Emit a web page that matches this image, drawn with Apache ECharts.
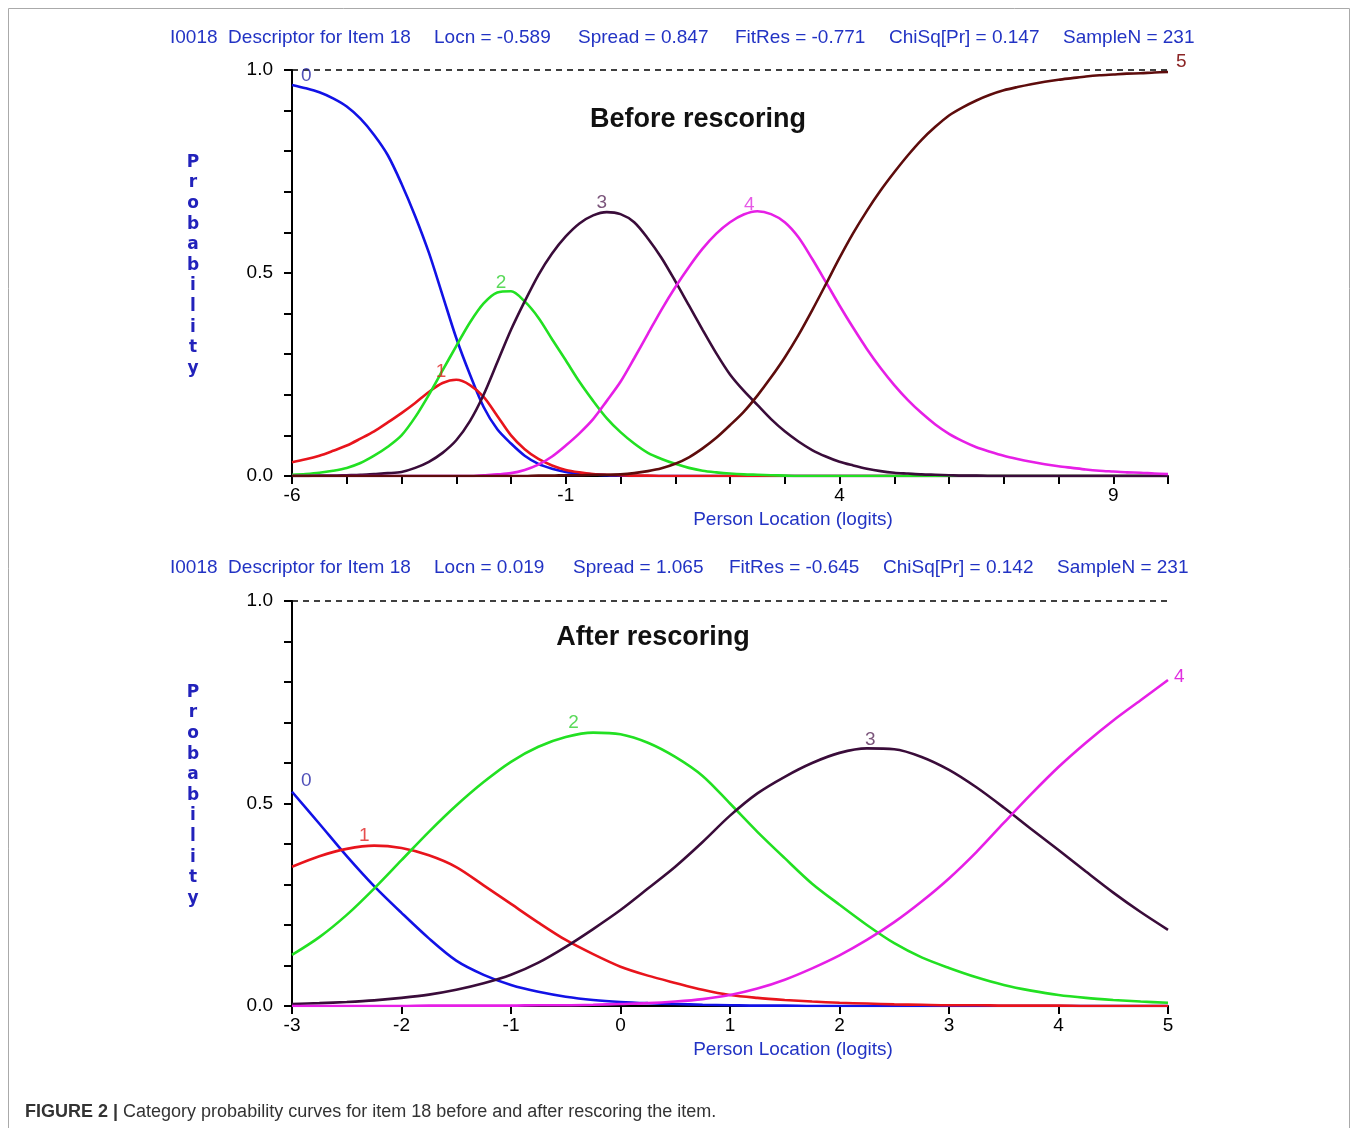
<!DOCTYPE html>
<html><head><meta charset="utf-8">
<script src="https://cdn.jsdelivr.net/npm/echarts@6/dist/echarts.min.js"></script>
<style>html,body{margin:0;padding:0;background:#fff}#c{width:1357px;height:1128px}</style>
</head><body><div id="c"></div>
<script>
// ---------- data (step 0.25 logits) ----------
const topX = [-6,-5.75,-5.5,-5.25,-5,-4.75,-4.5,-4.25,-4,-3.75,-3.5,-3.25,-3,-2.75,-2.5,-2.25,-2,-1.75,-1.5,-1.25,-1,-0.75,-0.5,-0.25,0,0.25,0.5,0.75,1,1.25,1.5,1.75,2,2.25,2.5,2.75,3,3.25,3.5,3.75,4,4.25,4.5,4.75,5,5.25,5.5,5.75,6,6.25,6.5,6.75,7,7.25,7.5,7.75,8,8.25,8.5,8.75,9,9.25,9.5,9.75,10];
const top0 = [0.963,0.955,0.945,0.93,0.91,0.88,0.84,0.79,0.72,0.64,0.55,0.445,0.34,0.25,0.17,0.115,0.08,0.05,0.03,0.018,0.01,0.006,0.004,0.002,0.001,
  0,0,0,0,0,0,0,0,0,0,0,0,0,0,0,0,0,0,0,0,0,0,0,0,0,0,0,0,0,0,0,0,0,0,0,0,0,0,0,0];
const top1 = [0.034,0.041,0.05,0.062,0.075,0.092,0.11,0.132,0.155,0.18,0.207,0.229,0.237,0.224,0.195,0.148,0.1,0.066,0.042,0.026,0.015,0.009,0.005,0.003,0.002,0.001,0.001,
  0,0,0,0,0,0,0,0,0,0,0,0,0,0,0,0,0,0,0,0,0,0,0,0,0,0,0,0,0,0,0,0,0,0,0,0,0,0];
const top2 = [0.003,0.005,0.008,0.013,0.02,0.032,0.05,0.072,0.1,0.145,0.2,0.26,0.32,0.378,0.425,0.452,0.455,0.43,0.39,0.337,0.285,0.232,0.185,0.142,0.108,0.08,0.057,0.042,0.03,0.02,0.013,0.009,0.006,0.004,0.003,0.002,0.001,
  0,0,0,0,0,0,0,0,0,0,0,0,0,0,0,0,0,0,0,0,0,0,0,0,0,0,0,0];
const top3 = [0,0,0.001,0.001,0.002,0.003,0.005,0.007,0.01,0.02,0.035,0.057,0.088,0.135,0.2,0.28,0.36,0.43,0.495,0.548,0.59,0.622,0.642,0.65,0.645,0.625,0.585,0.537,0.48,0.42,0.36,0.302,0.25,0.21,0.175,0.14,0.11,0.085,0.064,0.048,0.035,0.026,0.018,0.012,0.008,0.006,0.004,0.003,0.002,0.001,0.001,
  0,0,0,0,0,0,0,0,0,0,0,0,0,0];
const top4 = [0,0,0,0,0,0,0,0,0,0,0,0,0,0,
  0.002,0.004,0.007,0.015,0.028,0.048,0.075,0.105,0.14,0.185,0.232,0.29,0.35,0.41,0.465,0.515,0.56,0.597,0.625,0.644,0.652,0.645,0.625,0.588,0.535,0.478,0.42,0.365,0.313,0.266,0.224,0.187,0.155,0.127,0.104,0.086,0.071,0.06,0.05,0.042,0.035,0.029,0.024,0.02,0.016,0.013,0.011,0.009,0.008,0.006,0.005];
const top5 = [0,0,0,0,0,0,0,0,0,0,0,0,0,0,0,0,0,0,
  0.001,0.001,0.002,0.002,0.003,0.003,0.004,0.007,0.012,0.019,0.03,0.046,0.068,0.094,0.125,0.158,0.198,0.243,0.292,0.347,0.408,0.472,0.537,0.598,0.653,0.703,0.748,0.79,0.828,0.86,0.888,0.908,0.925,0.939,0.95,0.958,0.965,0.971,0.976,0.98,0.984,0.987,0.989,0.991,0.992,0.994,0.995];

const botX = [-3,-2.75,-2.5,-2.25,-2,-1.75,-1.5,-1.25,-1,-0.75,-0.5,-0.25,0,0.25,0.5,0.75,1,1.25,1.5,1.75,2,2.25,2.5,2.75,3,3.25,3.5,3.75,4,4.25,4.5,4.75,5];
const bot0 = [0.529,0.45,0.37,0.296,0.23,0.167,0.112,0.077,0.052,0.035,0.023,0.015,0.01,0.007,0.005,0.003,0.002,0.001,0.001,0,0,0,0,0,0,0,0,0,0,0,0,0,0];
const bot1 = [0.344,0.37,0.388,0.396,0.39,0.372,0.343,0.298,0.252,0.206,0.163,0.128,0.097,0.075,0.057,0.04,0.027,0.02,0.015,0.011,0.008,0.006,0.004,0.003,0.002,0.002,0.001,0.001,0.001,0,0,0,0];
const bot2 = [0.126,0.17,0.225,0.29,0.36,0.43,0.495,0.553,0.603,0.64,0.664,0.675,0.671,0.65,0.615,0.568,0.5,0.43,0.365,0.302,0.25,0.2,0.155,0.12,0.094,0.071,0.052,0.038,0.027,0.02,0.015,0.011,0.008];
const bot3 = [0.005,0.007,0.01,0.014,0.02,0.028,0.04,0.056,0.077,0.107,0.146,0.19,0.237,0.29,0.344,0.405,0.47,0.525,0.566,0.6,0.625,0.636,0.634,0.615,0.583,0.54,0.49,0.437,0.385,0.332,0.28,0.232,0.188];
const bot4 = [0,0,0,0,0,0.001,0.001,0.001,0.001,0.002,0.002,0.003,0.005,0.007,0.011,0.017,0.027,0.043,0.065,0.093,0.125,0.163,0.207,0.258,0.315,0.38,0.452,0.523,0.59,0.65,0.705,0.755,0.805];

const topXLabels = [-6,-1,4,9];
const yLabels = [0,0.5,1];
// category label annotations [x, y, text]
const topCatLabels = [[-5.74,0.985,'0'],[-3.28,0.256,'1'],[-2.18,0.475,'2'],[-0.34,0.672,'3'],[2.35,0.667,'4']];
const botCatLabels = [[-2.87,0.556,'0'],[-2.34,0.42,'1'],[-0.43,0.699,'2'],[2.28,0.657,'3']];

const headerTop = ['I0018  Descriptor for Item 18','Locn = -0.589','Spread = 0.847','FitRes = -0.771','ChiSq[Pr] = 0.147','SampleN = 231'];
const headerBot = ['I0018  Descriptor for Item 18','Locn = 0.019','Spread = 1.065','FitRes = -0.645','ChiSq[Pr] = 0.142','SampleN = 231'];

// ---------- styling ----------
const lineColors = ['#1212e6','#e8141c','#22e022','#3a0c3a','#e61fe6','#5e0c0c'];
const labelColors = ['#2424a8','#e02020','#30d030','#5a2a5a','#e030e0','#8b2525'];
const headerXTop = [170,434,578,735,889,1063];
const headerXBot = [170,434,573,729,883,1057];
const blueText = '#2233c4';

const chart = echarts.init(document.getElementById('c'));

function xAxisCfg(gi, min, max, fmt){
  return {gridIndex:gi, type:'value', min:min, max:max, interval:1,
    axisLine:{onZero:false, lineStyle:{color:'#000', width:2}},
    axisTick:{length:8, lineStyle:{color:'#000', width:2}},
    axisLabel:{formatter:fmt, color:'#000', fontSize:19, margin:10, fontFamily:'Liberation Sans'},
    splitLine:{show:false}};
}
function yAxisCfg(gi){
  return {gridIndex:gi, type:'value', min:0, max:1, interval:0.1,
    axisLine:{show:true, onZero:false, lineStyle:{color:'#000', width:2}},
    axisTick:{show:true, length:8, lineStyle:{color:'#000', width:2}},
    axisLabel:{color:'#000', fontSize:19, margin:19, fontFamily:'Liberation Sans',
      formatter:v=>yLabels.some(t=>Math.abs(t-v)<1e-6)?v.toFixed(1):''},
    splitLine:{show:false}};
}
function lineSeries(gi, xs, ys, ci, extra){
  return Object.assign({type:'line', xAxisIndex:gi, yAxisIndex:gi, smooth:0.3, showSymbol:false, symbol:'none',
    data:xs.map((x,i)=>[x, ys[i]]), lineStyle:{color:lineColors[ci], width:2.6}, itemStyle:{color:lineColors[ci]}, z:3}, extra||{});
}
const dashLine = {silent:true, symbol:'none', data:[{yAxis:1}], label:{show:false},
  lineStyle:{type:[6,5], color:'#000', width:1.6}};
function labelSeries(gi, arr, colorIdx){
  return {type:'scatter', xAxisIndex:gi, yAxisIndex:gi, symbolSize:1, itemStyle:{color:'rgba(0,0,0,0)'}, z:5,
    data:arr.map((d,i)=>({value:[d[0],d[1]], label:{show:true, position:'inside', formatter:d[2], color:labelColors[colorIdx[i]], fontSize:19, fontFamily:'Liberation Sans'}}))};
}

const graphics = [];
graphics.push({type:'rect', shape:{x:8.5,y:8.5,width:1341,height:1140}, style:{fill:'none', stroke:'#aaaaaa', lineWidth:1}, silent:true});
headerTop.forEach((t,i)=>graphics.push({type:'text', x:headerXTop[i], y:38, style:{text:t, fill:blueText, font:'19px "Liberation Sans"', textAlign:'left', textVerticalAlign:'middle', align:'left', verticalAlign:'middle'}}));
headerBot.forEach((t,i)=>graphics.push({type:'text', x:headerXBot[i], y:568, style:{text:t, fill:blueText, font:'19px "Liberation Sans"', textAlign:'left', textVerticalAlign:'middle', align:'left', verticalAlign:'middle'}}));
graphics.push({type:'text', x:698, y:120, style:{text:'Before rescoring', fill:'#111', font:'bold 27px "Liberation Sans"', textAlign:'center', textVerticalAlign:'middle', align:'center', verticalAlign:'middle'}});
graphics.push({type:'text', x:653, y:638, style:{text:'After rescoring', fill:'#111', font:'bold 27px "Liberation Sans"', textAlign:'center', textVerticalAlign:'middle', align:'center', verticalAlign:'middle'}});
const probTxt = 'P\nr\no\nb\na\nb\ni\nl\ni\nt\ny';
[152, 682].forEach(y=>graphics.push({type:'text', x:193, y:y, style:{text:probTxt, fill:'#2222bb', font:'bold 17px "DejaVu Sans"', lineHeight:20.6, textAlign:'center', align:'center', textVerticalAlign:'top', verticalAlign:'top'}}));
[520, 1050].forEach(y=>graphics.push({type:'text', x:793, y:y, style:{text:'Person Location (logits)', fill:blueText, font:'19px "Liberation Sans"', textAlign:'center', textVerticalAlign:'middle', align:'center', verticalAlign:'middle'}}));
graphics.push({type:'text', x:25, y:1112, style:{text:'{b|FIGURE 2 |} Category probability curves for item 18 before and after rescoring the item.', fill:'#333', font:'18px "Liberation Sans"', textVerticalAlign:'middle', verticalAlign:'middle',
  rich:{b:{fontWeight:'bold', fontSize:18, fontFamily:'Liberation Sans', fill:'#333', color:'#333'}}}});

const option = {
  backgroundColor:'#fff',
  animation:false,
  grid:[{left:292, top:70, width:876, height:406}, {left:292, top:601, width:876, height:405}],
  xAxis:[xAxisCfg(0,-6,10,v=>topXLabels.includes(v)?String(v):''), xAxisCfg(1,-3,5,v=>String(v))],
  yAxis:[yAxisCfg(0), yAxisCfg(1)],
  series:[
    lineSeries(0, topX, top0, 0, {markLine:dashLine}),
    lineSeries(0, topX, top1, 1),
    lineSeries(0, topX, top2, 2),
    lineSeries(0, topX, top3, 3),
    lineSeries(0, topX, top4, 4),
    lineSeries(0, topX, top5, 5, {endLabel:{show:true, formatter:'5', color:labelColors[5], fontSize:19, offset:[0,-10], fontFamily:'Liberation Sans'}}),
    labelSeries(0, topCatLabels, [0,1,2,3,4]),
    lineSeries(1, botX, bot0, 0, {markLine:dashLine}),
    lineSeries(1, botX, bot1, 1),
    lineSeries(1, botX, bot2, 2),
    lineSeries(1, botX, bot3, 3),
    lineSeries(1, botX, bot4, 4, {endLabel:{show:true, formatter:'4', color:labelColors[4], fontSize:19, offset:[-2,-3], fontFamily:'Liberation Sans'}}),
    labelSeries(1, botCatLabels, [0,1,2,3])
  ],
  graphic:graphics
};
chart.setOption(option);
</script>
</body></html>
